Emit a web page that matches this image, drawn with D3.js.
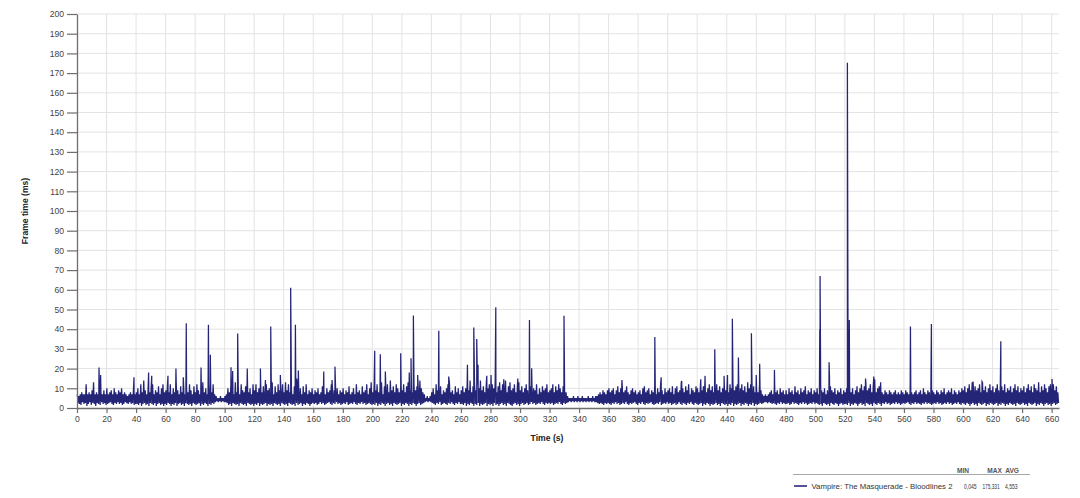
<!DOCTYPE html>
<html>
<head>
<meta charset="utf-8">
<script src="https://cdn.jsdelivr.net/npm/d3@7"></script>
<style>
  body { margin: 0; background: #fff; }
  text { font-family: "Liberation Sans", Arial, sans-serif; }
</style>
</head>
<body>
<div id="chart"></div>
<script>
// ---- data ----
const seriesName = "Vampire: The Masquerade - Bloodlines 2";
const statLabels = ["MIN", "MAX", "AVG"];
const statValues = ["0,045", "175,331", "4,553"];

const xTickValues = [0, 20, 40, 60, 80, 100, 120, 140, 160, 180, 200, 220, 240, 260, 280, 300, 320,
  340, 360, 380, 400, 420, 440, 460, 480, 500, 520, 540, 560, 580, 600, 620, 640, 660];
const yTickValues = [0, 10, 20, 30, 40, 50, 60, 70, 80, 90, 100, 110, 120, 130, 140, 150, 160,
  170, 180, 190, 200];

// highest frame time seen in each second (t = 0..664)
const peakMs = [
  7,6,7,8,7,7,12,7,8,7,9,13,7,8,7,10,8,7,9,7,
  10,7,8,9,7,10,8,7,9,8,10,7,8,7,6,7,8,7,9,7,
  8,10,7,12,8,14,9,7,11,8,10,12,7,9,8,11,7,10,12,8,
  9,11,8,12,7,10,8,13,9,7,11,8,12,7,10,8,12,9,7,11,
  8,12,9,7,11,13,8,10,7,12,9,8,12,7,6,5,5,6,5,5,
  6,7,10,8,12,9,7,13,8,11,7,12,9,8,11,14,8,10,7,12,
  9,12,8,10,13,8,11,7,12,9,10,8,13,7,11,8,12,9,7,12,
  8,13,9,12,8,10,7,11,9,12,8,10,7,11,8,12,7,9,8,10,
  7,9,8,10,7,8,11,9,7,10,8,9,12,7,9,8,10,7,9,8,
  10,7,9,8,11,7,8,10,7,12,8,9,7,11,8,9,12,7,10,13,
  8,11,9,12,8,10,13,7,11,9,12,8,14,9,11,8,12,10,8,11,
  9,12,8,11,13,9,10,8,12,9,11,8,14,10,8,7,5,6,5,6,
  8,10,7,12,9,8,11,7,9,8,10,12,13,8,9,7,11,8,10,7,
  9,11,8,10,12,9,14,8,11,13,9,12,10,14,9,11,8,13,10,12,
  9,12,10,14,8,11,13,9,12,10,14,8,11,13,9,10,12,8,11,13,
  9,11,8,10,12,9,7,11,8,10,9,12,7,10,8,11,9,10,12,8,
  9,10,12,8,11,9,12,10,8,11,9,8,6,5,5,5,6,5,5,6,
  5,5,6,5,5,5,6,5,5,6,5,6,6,7,8,7,9,8,7,9,
  10,8,9,10,7,9,11,8,10,12,8,9,11,8,7,9,10,8,9,7,
  8,9,7,10,11,8,9,10,7,9,8,11,7,10,8,12,9,7,10,8,
  9,10,8,11,7,10,11,8,9,13,10,8,11,9,12,7,10,9,8,11,
  10,8,12,9,11,13,8,10,12,9,11,8,10,12,9,11,8,10,12,9,
  11,8,12,10,13,9,11,12,8,10,12,9,11,8,13,10,12,9,11,8,
  10,8,12,9,7,6,7,6,7,8,9,7,10,8,9,7,10,8,9,7,
  9,7,10,8,9,7,11,8,9,7,10,8,9,11,7,9,8,10,7,9,
  8,10,7,11,9,8,10,7,9,8,11,9,8,10,7,9,8,10,7,9,
  8,10,9,11,8,10,7,9,11,8,10,12,9,11,13,9,10,12,8,11,
  12,8,10,11,13,8,7,9,8,7,9,8,7,8,9,7,8,7,9,8,
  7,9,8,7,9,8,7,8,9,7,8,9,7,10,8,7,9,8,7,9,
  8,7,9,8,7,9,8,10,7,8,9,8,10,7,9,8,7,9,8,10,
  9,11,8,10,12,9,13,8,11,9,10,12,8,13,9,11,8,10,12,9,
  11,8,10,12,9,8,11,9,12,8,10,9,11,8,10,12,9,11,8,10,
  9,11,8,10,12,9,11,8,12,10,9,13,8,11,9,12,10,8,11,12,
  10,12,9,11,8
];

// lowest frame time seen in each second (t = 0..664)
const dipMs = [
  2.5,2,1.5,3,2,2.5,1,2,3,1.5,2.5,2,1,2.5,2,1.5,3,2,2.5,1.5,
  2,2.5,3,2,1.5,2.5,2,3,2,2.5,1.5,2,3,2.5,2,3,2,2.5,1.5,2,
  2,1.5,2.5,1,2,2.5,1.5,2,1,2.5,2,1.5,2.5,1,2,2.5,1.5,2,1,2,
  1.5,2.5,2,1,2,1.5,2.5,1,2,2.5,1.5,2,1,2.5,2,1.5,2,1,2.5,2,
  1.5,2,2.5,1,2,1.5,2.5,2,1,2,1.5,2.5,2,3,3.5,3,3.5,3,3.5,3,
  3,2.5,1.5,2,1,2.5,2,1.5,2,1,2.5,2,1.5,2,1,2.5,2,1.5,2,1,
  2,1.5,2.5,1,2,1.5,2,2.5,1,2,1.5,2,1,2.5,2,1.5,2,1,2.5,2,
  1.5,2,1,2.5,2,1.5,2,1,2.5,1.5,2,2.5,1,2,1.5,2.5,2,1,2,2.5,
  2,2.5,1.5,2,3,2,2.5,1.5,2,2.5,3,2,1.5,2.5,2,3,2,2.5,1.5,2,
  2.5,2,3,1.5,2,2.5,2,3,2,1.5,2.5,2,3,2,2.5,1.5,2,2.5,2,1.5,
  2,1.5,2.5,1,2,1.5,2.5,2,1,2,2.5,1.5,2,1,2.5,2,1.5,2,2.5,1,
  2,1.5,2.5,2,1,2,1.5,2.5,2,1,2,2.5,1.5,2,2.5,3,3.5,3,3.5,3,
  2.5,2,1.5,2.5,2,3,1.5,2,2.5,2,1.5,2.5,2,3,2,1.5,2.5,2,3,2,
  2,1.5,2.5,1,2,1.5,2.5,2,1,2,1.5,2.5,1,2,1.5,2,2.5,1,2,1.5,
  2,1,2.5,1.5,2,1,2,2.5,1.5,2,1,2.5,2,1.5,1,2,2.5,1.5,2,1,
  2,2.5,1.5,2,2.5,1.5,2,3,2,2.5,1.5,2,2.5,2,3,2,1.5,2.5,2,2.5,
  2,2.5,1.5,2,2.5,2,3,2,1.5,2.5,2,2.5,3,3.5,3,3.5,3,3.5,3,3.5,
  3,3.5,3,3.5,3,3.5,3,3.5,3,3.5,3,3,2.5,2,2.5,2,1.5,2.5,2,2.5,
  2,1.5,2.5,2,3,2,2.5,1.5,2,2.5,2,3,2,1.5,2.5,2,2.5,3,2,1.5,
  2.5,2,3,2,1.5,2.5,2,2.5,3,2,1.5,2,2.5,2,3,1.5,2,2.5,2,3,
  2,2.5,1.5,2,2.5,1.5,2,3,2,1.5,2.5,2,1.5,2.5,2,3,2,1.5,2.5,2,
  1.5,2,2.5,1,2,1.5,2.5,2,1,2,1.5,2,2.5,1.5,2,1,2.5,2,1.5,2,
  1,2,1.5,2.5,1,2,1.5,2,2.5,1,2,1.5,2.5,2,1,2,1.5,2.5,1,2,
  1.5,2,2.5,2,2.5,3,3,2.5,3,2.5,2,2.5,2,1.5,2.5,2,3,2,2.5,2,
  2,2.5,1.5,2,3,2,2.5,2,1.5,2.5,2,3,2,2.5,1.5,2,2.5,2,3,2,
  2.5,2,1.5,2,1,2.5,2,1.5,2,1,2.5,2,1.5,2.5,2,1,2,2.5,1.5,2,
  2,1.5,2.5,1,2,1.5,2.5,2,1,2,2.5,1.5,2,1,2.5,2,1.5,2,1,2.5,
  2,1.5,2.5,2,1,2.5,2,3,2,2.5,1.5,2,2.5,2,3,2,2.5,1.5,2,2.5,
  2,2.5,3,2,1.5,2.5,2,3,2,2.5,2,1.5,2.5,2,3,2,2.5,2,1.5,2,
  2.5,2,3,2,2.5,1.5,2,2.5,2,3,2,2.5,1.5,2,2.5,2,3,2,1.5,2.5,
  2,1.5,2.5,2,1,2,2.5,1.5,2,1,2.5,2,1.5,2,2.5,1,2,1.5,2.5,2,
  1.5,2,2.5,1,2,1.5,2.5,2,1,2,1.5,2.5,2,1.5,2,1,2.5,2,1.5,2,
  2.5,1.5,2,1,2.5,2,1.5,2,2.5,1,2,1.5,2.5,2,1,2,2.5,1.5,2,1,
  2,2.5,1.5,2,2.5
];

// single long frames (stutter spikes)
const spikeTimes = [14.9, 16.0, 38.6, 48.5, 50.6, 61.6, 67.0, 72.0, 74.0, 84.0, 89.0, 90.3,
  104.3, 105.4, 108.8, 115.3, 124.2, 127.6, 131.2, 137.7, 144.7, 147.9, 148.8, 149.9,
  167.1, 172.7, 174.7, 201.6, 205.4, 208.8, 219.2, 225.0, 226.2, 227.8, 230.7, 245.0,
  251.7, 264.4, 268.7, 270.7, 271.6, 277.5, 280.4, 283.6, 289.0, 298.5, 306.4, 307.9,
  329.8, 369.0, 391.3, 395.6, 409.5, 422.4, 425.3, 431.9, 438.2, 440.5, 443.8, 447.9,
  456.7, 457.0, 460.0, 462.3, 472.3, 503.0, 503.2, 509.3, 509.6, 521.7, 523.0, 534.0,
  539.6, 540.2, 564.4, 578.6, 606.8, 612.9, 625.6, 660.3];
const spikeMs = [20.5, 16.8, 15.6, 18, 16.4, 16.4, 20, 15.6, 43, 20.5, 42.2, 27,
  20.7, 18.8, 37.8, 20, 20, 14.2, 41.4, 16.8, 61, 42.2, 15, 19,
  18.5, 14.2, 21, 29, 27.3, 18.5, 27.8, 18, 25.3, 47, 16.8, 39.2,
  16, 21.9, 40.8, 35, 21.9, 16.4, 16.8, 51.2, 14.6, 15, 44.7, 20.2,
  46.8, 14.2, 36, 15.6, 13.7, 14.6, 16.3, 29.8, 16.3, 16.8, 45.3, 25.6,
  38, 18, 16.8, 22.4, 19.3, 40, 67, 23.2, 15, 175.3, 44.7, 15,
  16, 14.6, 41.4, 42.7, 13.4, 13.4, 33.9, 14.7];

// ---- chart ----
const svg = d3.select("#chart").append("svg")
    .attr("width", 1080)
    .attr("height", 498);

let x = d3.scaleLinear().domain([0, 665]).range([77, 1059]);
let y = d3.scaleLinear().domain([0, 200]).range([408, 14]);

// grid
svg.append("g").selectAll("line")
    .data(yTickValues.filter(d => d > 0))
    .enter().append("line")
    .attr("x1", x(0)).attr("x2", x(665))
    .attr("y1", d => y(d)).attr("y2", d => y(d))
    .attr("stroke", "#e3e3e3");

svg.append("g").selectAll("line")
    .data(xTickValues.filter(d => d > 0))
    .enter().append("line")
    .attr("x1", d => x(d)).attr("x2", d => x(d))
    .attr("y1", y(200)).attr("y2", y(0))
    .attr("stroke", "#e3e3e3");

// series: one high and one low point per second, plus the spikes
let points = [];
peakMs.forEach((v, i) => points.push([i + 0.2, v]));
dipMs.forEach((v, i) => points.push([i + 0.7, v]));
spikeTimes.forEach((t, i) => points.push([t, spikeMs[i]]));
points.sort((a, b) => a[0] - b[0]);

let line = d3.line()
    .x(d => x(d[0]))
    .y(d => y(d[1]));

svg.append("path")
    .datum(points)
    .attr("d", line)
    .attr("fill", "none")
    .attr("stroke", "#191970")
    .attr("stroke-width", 1.25)
    .attr("stroke-opacity", 0.95);

// axes
let yAxis = d3.axisLeft(y).tickValues(yTickValues).tickSize(10).tickSizeOuter(0).tickPadding(3);
let xAxis = d3.axisBottom(x).tickValues(xTickValues).tickSize(5).tickSizeOuter(0).tickPadding(3);

let gy = svg.append("g")
    .attr("transform", `translate(${x(0)}, 0)`)
    .call(yAxis);
let gx = svg.append("g")
    .attr("transform", `translate(0, ${y(0)})`)
    .call(xAxis);

[gx, gy].forEach(g => {
    g.select(".domain").attr("stroke", "#6e6e6e").attr("stroke-width", 1.3);
    g.selectAll(".tick line").attr("stroke", "#6e6e6e").attr("stroke-width", 1.2);
    g.selectAll(".tick text")
        .attr("fill", "#444")
        .style("font-family", "'Liberation Sans', Arial, sans-serif")
        .style("font-size", "8.6px");
});

// axis titles
svg.append("text")
    .attr("transform", "translate(28, 211) rotate(-90)")
    .attr("text-anchor", "middle")
    .attr("font-size", "8.6px")
    .attr("font-weight", "bold")
    .attr("fill", "#222")
    .text("Frame time (ms)");

svg.append("text")
    .attr("x", 547)
    .attr("y", 441)
    .attr("text-anchor", "middle")
    .attr("font-size", "8.6px")
    .attr("font-weight", "bold")
    .attr("fill", "#222")
    .text("Time (s)");

// legend
let legend = svg.append("g");
legend.append("line")
    .attr("x1", 793).attr("x2", 1030)
    .attr("y1", 474.5).attr("y2", 474.5)
    .attr("stroke", "#a8a8a8");

let headerEnds = [969, 1002, 1019];
legend.selectAll(".hdr")
    .data(statLabels)
    .enter().append("text")
    .attr("x", (d, i) => headerEnds[i])
    .attr("y", 472.5)
    .attr("text-anchor", "end")
    .attr("font-size", "6.6px")
    .attr("font-weight", "bold")
    .attr("fill", "#555")
    .text(d => d);

legend.append("line")
    .attr("x1", 794).attr("x2", 807)
    .attr("y1", 486).attr("y2", 486)
    .attr("stroke", "#191970")
    .attr("stroke-width", 1.5);

legend.append("text")
    .attr("x", 811.5)
    .attr("y", 488.5)
    .attr("font-size", "7.8px")
    .attr("fill", "#333")
    .text(seriesName);

// the value column uses narrow figures, so squeeze them to the widths seen
let valueStarts = [964, 982.5, 1005];
let valueWidths = [12.5, 17, 12.5];
legend.selectAll(".val")
    .data(statValues)
    .enter().append("text")
    .attr("x", (d, i) => valueStarts[i])
    .attr("y", 488.5)
    .attr("font-size", "7.8px")
    .attr("textLength", (d, i) => valueWidths[i])
    .attr("lengthAdjust", "spacingAndGlyphs")
    .attr("fill", "#333")
    .text(d => d);
</script>
</body>
</html>
